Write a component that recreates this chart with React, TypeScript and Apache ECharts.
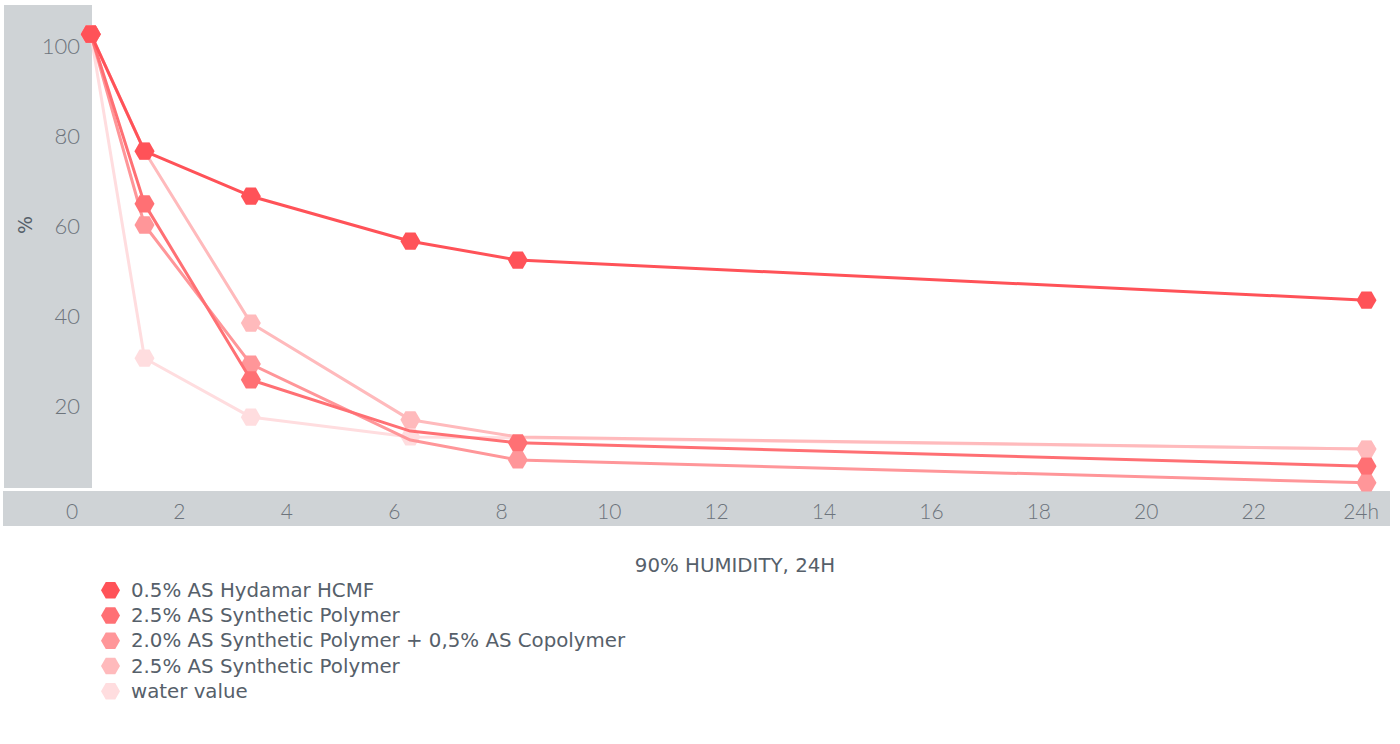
import React, { useEffect, useRef } from 'react';
import * as echarts from 'echarts';

// ---- data ----
const HOURS = [0.35, 1.35, 3.33, 6.3, 8.3, 24.1];
const X_TICKS = [0, 2, 4, 6, 8, 10, 12, 14, 16, 18, 20, 22, 24];
const Y_TICKS = [20, 40, 60, 80, 100];

const HYDAMAR = [102.4, 76.4, 66.4, 56.4, 52.2, 43.3];
const SYNTH_A = [102.4, 64.7, 25.6, 14.2, 11.6, 6.4];
const SYNTH_COPOLY = [102.4, 60.0, 29.1, 12.2, 7.8, 2.7];
const SYNTH_B = [102.4, 76.4, 38.2, 16.7, 12.9, 10.2];
const WATER = [102.4, 30.4, 17.3, 12.9, 12.7, 10.2];

const SERIES_LABELS = [
  '0.5% AS Hydamar HCMF',
  '2.5% AS Synthetic Polymer',
  '2.0% AS Synthetic Polymer + 0,5% AS Copolymer',
  '2.5% AS Synthetic Polymer',
  'water value',
];
const SERIES_VALUES = [HYDAMAR, SYNTH_A, SYNTH_COPOLY, SYNTH_B, WATER];
const SERIES_IDS = ['s1', 's2', 's3', 's4', 's5'];

const X_TITLE = '90% HUMIDITY, 24H';
const Y_TITLE = '%';

// ---- styles ----
const COLORS = ['#ff5258', '#ff7074', '#ff9699', '#ffbabc', '#ffdddf'];
const HIDDEN_MARKERS: Record<number, number[]> = { 1: [3], 2: [3], 3: [4], 4: [4] };
const HEX = 'path://M0,8.66L5,0L15,0L20,8.66L15,17.32L5,17.32Z';
const BAND = '#cfd3d6';
const LABEL_COLOR = '#6d747c';
const TEXT_COLOR = '#56606a';
const TEXT_FONT = 'DejaVu Sans';

export default function App() {
  const ref = useRef<HTMLDivElement>(null);

  useEffect(() => {
    if (!ref.current) return;
    const chart = echarts.init(ref.current, null, { renderer: 'svg' });

    const series = SERIES_VALUES.map((vals, i) => ({
      type: 'line',
      name: SERIES_IDS[i],
      z: 10 - i,
      silent: true,
      symbol: HEX,
      symbolSize: [20, 17.3],
      showSymbol: true,
      lineStyle: { width: 3, color: COLORS[i] },
      itemStyle: { color: COLORS[i], opacity: 1 },
      emphasis: { disabled: true },
      data: HOURS.map((h, j) =>
        (HIDDEN_MARKERS[i] || []).includes(j)
          ? { value: [h, vals[j]], symbol: 'none' }
          : [h, vals[j]]
      ),
    }));

    chart.setOption({
      animation: false,
      grid: { left: 72, top: 4.5, bottom: 249, right: 12, containLabel: false },
      xAxis: {
        type: 'value',
        min: 0,
        max: 24.5,
        interval: 2,
        axisLine: { show: false },
        axisTick: { show: false },
        splitLine: { show: false },
        axisLabel: {
          margin: 5,
          fontSize: 21,
          fontFamily: 'Lato',
          fontWeight: 300,
          color: LABEL_COLOR,
          showMaxLabel: false,
          formatter: (v: number) =>
            X_TICKS.includes(v) ? (v === 24 ? '24h' : String(v)) : '',
        },
      },
      yAxis: {
        type: 'value',
        min: 0,
        max: 109,
        interval: 20,
        axisLine: { show: false },
        axisTick: { show: false },
        splitLine: { show: false },
        axisLabel: {
          margin: -8,
          fontSize: 22,
          fontFamily: 'Lato',
          fontWeight: 300,
          color: LABEL_COLOR,
          showMaxLabel: false,
          formatter: (v: number) => (Y_TICKS.includes(v) ? String(v) : ''),
        },
      },
      legend: {
        orient: 'vertical',
        left: 101,
        top: 580,
        padding: 0,
        itemWidth: 19,
        itemHeight: 16.5,
        itemGap: 5,
        icon: HEX,
        selectedMode: false,
        data: SERIES_IDS,
        formatter: (name: string) => SERIES_LABELS[SERIES_IDS.indexOf(name)],
        textStyle: {
          fontFamily: TEXT_FONT,
          fontSize: 19.8,
          lineHeight: 20.3,
          color: TEXT_COLOR,
          padding: [0, 0, 0, 6],
        },
      },
      graphic: [
        { type: 'rect', z: 0, silent: true, shape: { x: 4, y: 5, width: 88, height: 483 }, style: { fill: BAND } },
        { type: 'rect', z: 0, silent: true, shape: { x: 3, y: 491, width: 1387, height: 35 }, style: { fill: BAND } },
        {
          type: 'text',
          z: 1,
          x: 735,
          y: 565,
          style: {
            text: X_TITLE,
            fontFamily: TEXT_FONT,
            fontSize: 19.8,
            fill: TEXT_COLOR,
            align: 'center',
            verticalAlign: 'middle',
          },
        },
        {
          type: 'text',
          z: 1,
          x: 25,
          y: 225,
          rotation: Math.PI / 2,
          style: {
            text: Y_TITLE,
            fontFamily: TEXT_FONT,
            fontSize: 19,
            fill: TEXT_COLOR,
            align: 'center',
            verticalAlign: 'middle',
          },
        },
      ],
      series,
    });

    return () => chart.dispose();
  }, []);

  return (
    <div
      ref={ref}
      style={{ position: 'fixed', left: 0, top: 0, width: 1400, height: 744, background: '#fff' }}
    />
  );
}
